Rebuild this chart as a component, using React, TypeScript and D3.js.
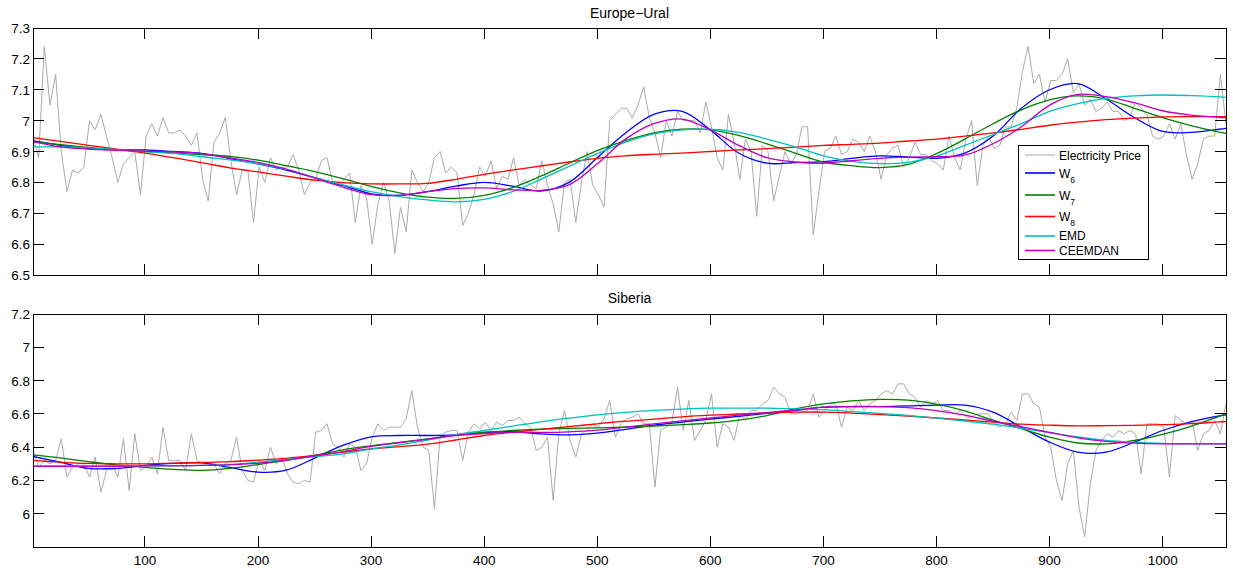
import React, { useEffect, useRef } from "react";
import * as d3 from "d3";

// price series read every 5th day (day 1, 6, 11, ... 1056)
const priceDays = d3.range(1, 1057, 5);

const uralPrice = [
  6.95, 6.88, 7.24, 7.05, 7.15, 6.90, 6.77, 6.84, 6.83, 6.85,
  7.00, 6.97, 7.02, 6.95, 6.88, 6.80, 6.86, 6.88, 6.90, 6.76,
  6.95, 6.99, 6.95, 7.01, 6.96, 6.96, 6.97, 6.95, 6.92, 6.96,
  6.81, 6.74, 6.93, 6.96, 7.01, 6.87, 6.76, 6.84, 6.84, 6.67,
  6.85, 6.80, 6.88,
  6.84, 6.85, 6.85, 6.89, 6.84, 6.76, 6.80, 6.81, 6.87, 6.88,
  6.80, 6.79, 6.81, 6.83, 6.67, 6.79, 6.75, 6.60, 6.73, 6.80,
  6.74, 6.57, 6.72, 6.64, 6.84, 6.80, 6.77, 6.80, 6.88, 6.90,
  6.83, 6.85, 6.83, 6.66, 6.70, 6.76, 6.85, 6.82, 6.87, 6.78,
  6.82, 6.81, 6.88,
  6.79, 6.81, 6.79, 6.78, 6.87, 6.79, 6.73, 6.64, 6.80, 6.81,
  6.67, 6.80, 6.90, 6.79, 6.76, 6.72, 7.00, 7.02, 7.04, 7.04,
  7.01, 7.05, 7.11, 7.01, 6.96, 6.88, 7.00, 6.95, 7.03, 7.00,
  7.00, 7.00, 6.96, 7.06, 6.98, 6.88, 6.84, 7.02, 6.93, 6.81,
  6.94, 6.90,
  6.69, 6.92, 6.90, 6.74, 6.82, 6.90, 6.86, 6.89, 6.98, 6.98,
  6.63, 6.77, 6.90, 6.91, 6.95, 6.89, 6.90, 6.94, 6.93, 6.90,
  6.95, 6.90, 6.81, 6.89, 6.91, 6.92, 6.85, 6.88, 6.93, 6.89,
  6.89, 6.87, 6.86, 6.84, 6.95, 6.88, 6.84, 6.94, 7.00, 6.79,
  6.92, 6.95, 6.91,
  6.92, 6.98, 6.98, 7.04, 7.16, 7.24, 7.12, 7.15, 7.06, 7.13,
  7.13, 7.15, 7.20, 7.09, 7.12, 7.05, 7.07, 7.03, 7.04, 7.06,
  7.03, 7.03, 7.00, 7.01, 7.06, 7.04, 7.02, 6.95, 6.94, 6.95,
  6.99, 6.94, 6.99, 6.89, 6.81, 6.86, 6.94, 6.95, 6.95, 7.15,
  6.99,
];

const siberiaPrice = [
  6.38, 6.28, 6.32, 6.30, 6.32, 6.45, 6.22, 6.28, 6.30, 6.30,
  6.22, 6.34, 6.13, 6.26, 6.30, 6.22, 6.45, 6.14, 6.48, 6.26,
  6.28, 6.34, 6.24, 6.52, 6.32, 6.32, 6.32, 6.26, 6.48, 6.32,
  6.30, 6.30, 6.30, 6.24, 6.30, 6.32, 6.46, 6.26, 6.20, 6.19,
  6.32, 6.26, 6.40, 6.30, 6.34, 6.24, 6.19, 6.18, 6.20, 6.19,
  6.49, 6.50, 6.54, 6.42, 6.40, 6.34, 6.42, 6.40, 6.26, 6.30,
  6.46, 6.54, 6.50, 6.52, 6.52, 6.52, 6.57, 6.74, 6.52,
  6.40, 6.38, 6.03, 6.46, 6.49, 6.50, 6.50, 6.32, 6.49, 6.54,
  6.51, 6.55, 6.50, 6.55, 6.53, 6.56, 6.56, 6.58, 6.54, 6.52,
  6.38, 6.40, 6.46, 6.08, 6.48, 6.62, 6.44, 6.34, 6.48, 6.50,
  6.54, 6.52, 6.57, 6.68, 6.46, 6.54, 6.57, 6.58, 6.60, 6.54,
  6.54, 6.16, 6.50, 6.52, 6.55, 6.76, 6.50, 6.68, 6.44, 6.50,
  6.56, 6.72, 6.40, 6.54, 6.52, 6.44, 6.60, 6.56, 6.62, 6.62,
  6.66, 6.68, 6.76, 6.72, 6.70, 6.60, 6.60, 6.61, 6.62, 6.72,
  6.58, 6.62,
  6.66, 6.66, 6.52, 6.64, 6.62, 6.68, 6.62, 6.66, 6.68, 6.72,
  6.74, 6.72, 6.78, 6.78, 6.72, 6.70, 6.64, 6.68, 6.66, 6.68,
  6.62, 6.62, 6.60, 6.62, 6.58, 6.58, 6.60, 6.60, 6.60, 6.54,
  6.52, 6.54, 6.61, 6.56, 6.72, 6.72, 6.66, 6.64, 6.46, 6.40,
  6.20, 6.08, 6.30, 6.38, 6.04, 5.86, 6.18, 6.38, 6.44, 6.48,
  6.46, 6.50, 6.48, 6.50, 6.48, 6.24, 6.54, 6.54, 6.54, 6.52,
  6.22, 6.59, 6.56, 6.54, 6.56, 6.38, 6.48, 6.50, 6.56, 6.48,
  6.66,
];

// smoothed components, read every 25 days
const smoothDays = [
  1, 25, 50, 75, 100, 125, 150, 175, 200, 225, 250, 275, 300, 325, 350,
  375, 400, 425, 450, 475, 500, 525, 550, 575, 600, 625, 650, 675, 700,
  725, 750, 775, 800, 825, 850, 875, 900, 925, 950, 975, 1000, 1025, 1050,
  1056,
];

const uralW6 = [
  6.935, 6.92, 6.91, 6.905, 6.905, 6.9, 6.894, 6.877, 6.86, 6.84,
  6.815, 6.79, 6.763, 6.758, 6.77, 6.788, 6.8, 6.788, 6.772, 6.8,
  6.88, 6.96, 7.02, 7.03, 6.97, 6.895, 6.862, 6.864, 6.867, 6.878,
  6.886, 6.882, 6.878, 6.895, 6.95, 7.04, 7.1, 7.12, 7.07, 7.01,
  6.965, 6.962, 6.972, 6.975,
];
const uralW7 = [
  6.932, 6.922, 6.913, 6.906, 6.9, 6.895, 6.89, 6.884, 6.872, 6.854,
  6.835, 6.812, 6.787, 6.766, 6.752, 6.748, 6.758, 6.783, 6.82, 6.862,
  6.903, 6.935, 6.96, 6.972, 6.97, 6.952, 6.925, 6.895, 6.866, 6.854,
  6.848, 6.858, 6.893, 6.94, 6.99, 7.035, 7.067, 7.08, 7.07, 7.04,
  7.01, 6.984, 6.963, 6.959,
];
const uralW8 = [
  6.945, 6.933, 6.92, 6.908, 6.895, 6.88, 6.864, 6.847, 6.834, 6.82,
  6.807, 6.799, 6.795, 6.795, 6.797, 6.81, 6.826, 6.84, 6.853, 6.866,
  6.878, 6.886, 6.891, 6.895, 6.9, 6.905, 6.909, 6.914, 6.92, 6.923,
  6.927, 6.934, 6.94, 6.95, 6.96, 6.972, 6.985, 6.995, 7.003, 7.008,
  7.012, 7.013, 7.013, 7.013,
];
const uralEMD = [
  6.915, 6.915, 6.912, 6.906, 6.9, 6.894, 6.883, 6.873, 6.861, 6.842,
  6.816, 6.792, 6.77, 6.754, 6.743, 6.737, 6.745, 6.77, 6.81, 6.852,
  6.893, 6.93, 6.957, 6.97, 6.972, 6.962, 6.94, 6.915, 6.886, 6.868,
  6.861, 6.865, 6.885, 6.92, 6.955, 6.99, 7.03, 7.055, 7.072, 7.08,
  7.083, 7.081, 7.077, 7.075,
];
const uralCEEMDAN = [
  6.932, 6.915, 6.908, 6.904, 6.901, 6.899, 6.893, 6.879, 6.865, 6.843,
  6.814, 6.785, 6.76, 6.758, 6.77, 6.78, 6.782, 6.776, 6.774, 6.792,
  6.86, 6.94, 6.99, 7.005, 6.97, 6.92, 6.88, 6.866, 6.862, 6.87,
  6.878, 6.882, 6.883, 6.888, 6.925, 6.98, 7.05, 7.085, 7.078, 7.058,
  7.032, 7.018, 7.011, 7.01,
];

const siberiaW6 = [
  6.344, 6.31, 6.272, 6.272, 6.29, 6.302, 6.305, 6.278, 6.25, 6.262,
  6.334, 6.41, 6.462, 6.47, 6.47, 6.474, 6.486, 6.494, 6.48, 6.474,
  6.484, 6.507, 6.532, 6.55, 6.568, 6.585, 6.603, 6.62, 6.64, 6.644,
  6.644, 6.648, 6.652, 6.652, 6.61, 6.52, 6.43, 6.37, 6.37, 6.43,
  6.5, 6.552, 6.588, 6.594,
];
const siberiaW7 = [
  6.354, 6.335, 6.313, 6.293, 6.278, 6.266, 6.26, 6.272, 6.295, 6.32,
  6.35, 6.384, 6.408, 6.428, 6.45, 6.473, 6.49, 6.5, 6.508, 6.513,
  6.516, 6.521, 6.527, 6.535, 6.545, 6.562, 6.59, 6.63, 6.66, 6.678,
  6.687, 6.682, 6.658, 6.618, 6.562, 6.511, 6.46, 6.425, 6.42, 6.44,
  6.477, 6.525, 6.585, 6.6,
];
const siberiaW8 = [
  6.32, 6.31, 6.302, 6.3, 6.3, 6.304, 6.308, 6.313, 6.322, 6.333,
  6.35, 6.37, 6.39, 6.403, 6.418, 6.443, 6.47, 6.49, 6.507, 6.523,
  6.54, 6.556, 6.568, 6.582, 6.592, 6.599, 6.606, 6.61, 6.611, 6.605,
  6.596, 6.586, 6.575, 6.564, 6.55, 6.538, 6.532, 6.528, 6.529, 6.531,
  6.535, 6.541, 6.552, 6.554,
];
const siberiaEMD = [
  6.288, 6.288, 6.288, 6.288, 6.288, 6.289, 6.29, 6.297, 6.31, 6.326,
  6.343, 6.36, 6.388, 6.413, 6.442, 6.475, 6.5, 6.526, 6.552, 6.574,
  6.594, 6.609, 6.621, 6.629, 6.634, 6.634, 6.634, 6.63, 6.625, 6.614,
  6.603, 6.59, 6.574, 6.557, 6.538, 6.513, 6.487, 6.461, 6.441, 6.43,
  6.423, 6.42, 6.42, 6.42,
];
const siberiaCEEMDAN = [
  6.284, 6.284, 6.284, 6.285, 6.287, 6.288, 6.29, 6.293, 6.303, 6.322,
  6.347, 6.373, 6.404, 6.427, 6.448, 6.47, 6.482, 6.488, 6.488, 6.492,
  6.502, 6.52, 6.54, 6.558, 6.575, 6.592, 6.608, 6.623, 6.641, 6.644,
  6.644, 6.638, 6.62, 6.592, 6.556, 6.522, 6.488, 6.456, 6.435, 6.424,
  6.42, 6.42, 6.42, 6.42,
];

const xTicks = [100, 200, 300, 400, 500, 600, 700, 800, 900, 1000];
const uralYTicks = [6.5, 6.6, 6.7, 6.8, 6.9, 7, 7.1, 7.2, 7.3];
const siberiaYTicks = [6, 6.2, 6.4, 6.6, 6.8, 7, 7.2];

const seriesNames = ["W6", "W7", "W8", "EMD", "CEEMDAN"];
const seriesColors = ["#0000ff", "#008000", "#ff0000", "#00bfbf", "#bf00bf"];
const priceColor = "#ababab";

const panels = [
  {
    id: "ural",
    title: "Europe\u2212Ural",
    price: uralPrice,
    smooth: [uralW6, uralW7, uralW8, uralEMD, uralCEEMDAN],
    yDomain: [6.5, 7.3],
    yTicks: uralYTicks,
  },
  {
    id: "siberia",
    title: "Siberia",
    price: siberiaPrice,
    smooth: [siberiaW6, siberiaW7, siberiaW8, siberiaEMD, siberiaCEEMDAN],
    yDomain: [5.8, 7.2],
    yTicks: siberiaYTicks,
  },
];

const W = 1233;
const H = 570;
const left = 33;
const right = 1226;
const boxes = [
  { top: 28, bottom: 275, titleY: 17.5 },
  { top: 314, bottom: 547, titleY: 302.5 },
];
const tickLen = 11;
const font = "'Liberation Sans', Arial, Helvetica, sans-serif";

const App = () => {
  const svgRef = useRef(null);

  useEffect(() => {
    const svg = d3.select(svgRef.current);
    svg.selectAll("*").remove();

    const x = d3.scaleLinear().domain([1, 1056]).range([left, right]);

    panels.forEach((p, i) => {
      const { top, bottom, titleY } = boxes[i];
      const y = d3.scaleLinear().domain(p.yDomain).range([bottom, top]);
      const g = svg.append("g");

      g.append("clipPath")
        .attr("id", `clip-${p.id}`)
        .append("rect")
        .attr("x", left)
        .attr("y", top)
        .attr("width", right - left)
        .attr("height", bottom - top);

      const plot = g.append("g").attr("clip-path", `url(#clip-${p.id})`);

      // raw price
      plot
        .append("path")
        .datum(p.price)
        .attr("fill", "none")
        .attr("stroke", priceColor)
        .attr("stroke-width", 1)
        .attr(
          "d",
          d3
            .line()
            .x((d, k) => x(priceDays[k]))
            .y((d) => y(d))
        );

      // decompositions
      const smoothLine = d3
        .line()
        .x((d, k) => x(smoothDays[k]))
        .y((d) => y(d))
        .curve(d3.curveCatmullRom.alpha(0.5));

      p.smooth.forEach((s, j) => {
        plot
          .append("path")
          .datum(s)
          .attr("fill", "none")
          .attr("stroke", seriesColors[j])
          .attr("stroke-width", 1.3)
          .attr("d", smoothLine);
      });

      // box
      g.append("rect")
        .attr("x", left)
        .attr("y", top)
        .attr("width", right - left)
        .attr("height", bottom - top)
        .attr("fill", "none")
        .attr("stroke", "#000")
        .attr("stroke-width", 1)
        .attr("shape-rendering", "crispEdges");

      // x ticks (inside, top and bottom)
      xTicks.forEach((t) => {
        const xp = x(t);
        g.append("line")
          .attr("x1", xp).attr("x2", xp)
          .attr("y1", bottom).attr("y2", bottom - tickLen)
          .attr("stroke", "#000").attr("shape-rendering", "crispEdges");
        g.append("line")
          .attr("x1", xp).attr("x2", xp)
          .attr("y1", top).attr("y2", top + tickLen)
          .attr("stroke", "#000").attr("shape-rendering", "crispEdges");
        if (i === 1) {
          g.append("text")
            .attr("x", xp)
            .attr("y", 564.5)
            .attr("text-anchor", "middle")
            .style("font-family", font)
            .style("font-size", "13.5px")
            .text(t);
        }
      });

      // y ticks (inside, left and right)
      p.yTicks.forEach((t) => {
        const yp = y(t);
        g.append("line")
          .attr("x1", left).attr("x2", left + tickLen)
          .attr("y1", yp).attr("y2", yp)
          .attr("stroke", "#000").attr("shape-rendering", "crispEdges");
        g.append("line")
          .attr("x1", right).attr("x2", right - tickLen)
          .attr("y1", yp).attr("y2", yp)
          .attr("stroke", "#000").attr("shape-rendering", "crispEdges");
        g.append("text")
          .attr("x", 30)
          .attr("y", yp + 5)
          .attr("text-anchor", "end")
          .style("font-family", font)
          .style("font-size", "13.5px")
          .text(String(t));
      });

      // title
      g.append("text")
        .attr("x", (left + right) / 2)
        .attr("y", titleY)
        .attr("text-anchor", "middle")
        .style("font-family", font)
        .style("font-size", "14px")
        .text(p.title);
    });

    // legend (top panel)
    const lg = svg.append("g");
    lg.append("rect")
      .attr("x", 1018.5)
      .attr("y", 145.5)
      .attr("width", 130)
      .attr("height", 114)
      .attr("fill", "#fff")
      .attr("stroke", "#000")
      .attr("shape-rendering", "crispEdges");

    const entries = [
      { label: "Electricity Price", color: priceColor, width: 1, lineY: 155, textY: 160 },
      ...seriesNames.map((n, j) => ({
        label: n,
        color: seriesColors[j],
        width: 1.6,
        lineY: [173, 195, 216.5, 236, 250.5][j],
        textY: [177.5, 199.5, 221, 240, 255][j],
      })),
    ];

    entries.forEach((e) => {
      lg.append("line")
        .attr("x1", 1025).attr("x2", 1055)
        .attr("y1", e.lineY).attr("y2", e.lineY)
        .attr("stroke", e.color)
        .attr("stroke-width", e.width);
      const t = lg.append("text")
        .attr("x", 1059)
        .attr("y", e.textY)
        .style("font-family", font)
        .style("font-size", "12px");
      if (/^W\d$/.test(e.label)) {
        t.append("tspan").text("W");
        t.append("tspan")
          .attr("dy", 5)
          .style("font-size", "8.5px")
          .text(e.label.slice(1));
      } else {
        t.text(e.label);
      }
    });
  }, []);

  return (
    <svg
      ref={svgRef}
      width={W}
      height={H}
      style={{ position: "absolute", left: 0, top: 0, background: "#fff" }}
    ></svg>
  );
};

export default App;
